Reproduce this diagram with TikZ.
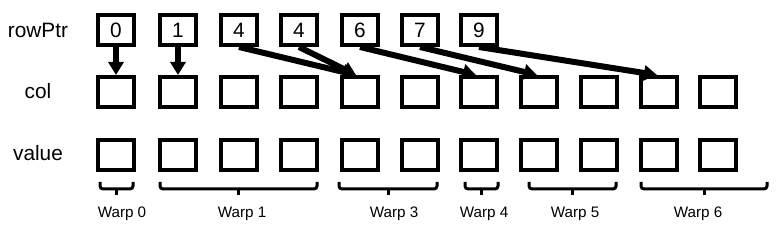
\documentclass[tikz,border=0pt]{standalone}
\usepackage{fontspec}
\setmainfont{Liberation Sans}
\usetikzlibrary{arrows.meta}
\usetikzlibrary{calc}

\tikzset{
  cell/.style={draw,line width=2pt,minimum width=18pt,minimum height=15pt,inner sep=0pt,font=\fontsize{10.4}{12}\selectfont},
  rowname/.style={font=\fontsize{10.4}{12}\selectfont},
  ptr/.style={line width=3pt,-{Triangle[length=6.5pt,width=7.5pt]}},
  warpbrace/.style={line width=1.5pt,rounded corners=1.5pt},
  warpname/.style={font=\fontsize{7.6}{9}\selectfont,anchor=base}
}

\begin{document}
\begin{tikzpicture}[x=0.5pt,y=-0.5pt]
\useasboundingbox (0,0) rectangle (781,239);

% row names
\node (rowptr) at (38,30) [rowname] {rowPtr};
\node (col) at (38,91) [rowname] {col};
\node (value) at (38,153) [rowname] {value};

% rowPtr
\node (p0) at (116,30) [cell] {0};
\node (p1) at (178,30) [cell] {1};
\node (p2) at (239,30) [cell] {4};
\node (p3) at (299,30) [cell] {4};
\node (p4) at (360,30) [cell] {6};
\node (p5) at (420,30) [cell] {7};
\node (p6) at (479,30) [cell] {9};

% col
\node (c0) at (116,92) [cell] {};
\node (c1) at (178,92) [cell] {};
\node (c2) at (239,92) [cell] {};
\node (c3) at (299,92) [cell] {};
\node (c4) at (360,92) [cell] {};
\node (c5) at (420,92) [cell] {};
\node (c6) at (479,92) [cell] {};
\node (c7) at (539,92) [cell] {};
\node (c8) at (599,92) [cell] {};
\node (c9) at (659,92) [cell] {};
\node (c10) at (718,92) [cell] {};

% value
\node (v0) at (116,155) [cell] {};
\node (v1) at (178,155) [cell] {};
\node (v2) at (239,155) [cell] {};
\node (v3) at (299,155) [cell] {};
\node (v4) at (360,155) [cell] {};
\node (v5) at (420,155) [cell] {};
\node (v6) at (479,155) [cell] {};
\node (v7) at (539,155) [cell] {};
\node (v8) at (599,155) [cell] {};
\node (v9) at (659,155) [cell] {};
\node (v10) at (718,155) [cell] {};

\path[ptr]
(p0.south) edge (c0.north)
(p1.south) edge (c1.north)
(p2.south) edge ($(c4.north)+(-4,0)$)
(p3.south) edge ($(c4.north)+(-4,0)$)
(p4.south) edge ($(c6.north)+(-3,0)$)
(p5.south) edge ($(c7.north)+(-2,0)$)
(p6.south) edge ($(c9.north)+(-2,0)$);

% warps
\coordinate (w0a) at (100,182); \coordinate (w0b) at (133,182);
\coordinate (w1a) at (160,182); \coordinate (w1b) at (317,182);
\coordinate (w3a) at (339,182); \coordinate (w3b) at (437,182);
\coordinate (w4a) at (465,182); \coordinate (w4b) at (498,182);
\coordinate (w5a) at (529,182); \coordinate (w5b) at (616,182);
\coordinate (w6a) at (641,182); \coordinate (w6b) at (767,182);

\draw[warpbrace] (w0a) |- ($(w0a)!0.5!(w0b)+(0,7)$) coordinate (w0m) -| (w0b);
\draw[warpbrace] (w1a) |- ($(w1a)!0.5!(w1b)+(0,7)$) coordinate (w1m) -| (w1b);
\draw[warpbrace] (w3a) |- ($(w3a)!0.5!(w3b)+(0,7)$) coordinate (w3m) -| (w3b);
\draw[warpbrace] (w4a) |- ($(w4a)!0.5!(w4b)+(0,7)$) coordinate (w4m) -| (w4b);
\draw[warpbrace] (w5a) |- ($(w5a)!0.5!(w5b)+(0,7)$) coordinate (w5m) -| (w5b);
\draw[warpbrace] (w6a) |- ($(w6a)!0.5!(w6b)+(0,7)$) coordinate (w6m) -| (w6b);
\path[warpbrace]
(w0m) edge ++(0,6)
(w1m) edge ++(0,6)
(w3m) edge ++(0,6)
(w4m) edge ++(0,6)
(w5m) edge ++(0,6)
(w6m) edge ++(0,6);

\node (warp0) at (122,218) [warpname] {Warp 0};
\node (warp1) at (242,218) [warpname] {Warp 1};
\node (warp3) at (394,218) [warpname] {Warp 3};
\node (warp4) at (484,218) [warpname] {Warp 4};
\node (warp5) at (575,218) [warpname] {Warp 5};
\node (warp6) at (698,218) [warpname] {Warp 6};
\end{tikzpicture}
\end{document}
